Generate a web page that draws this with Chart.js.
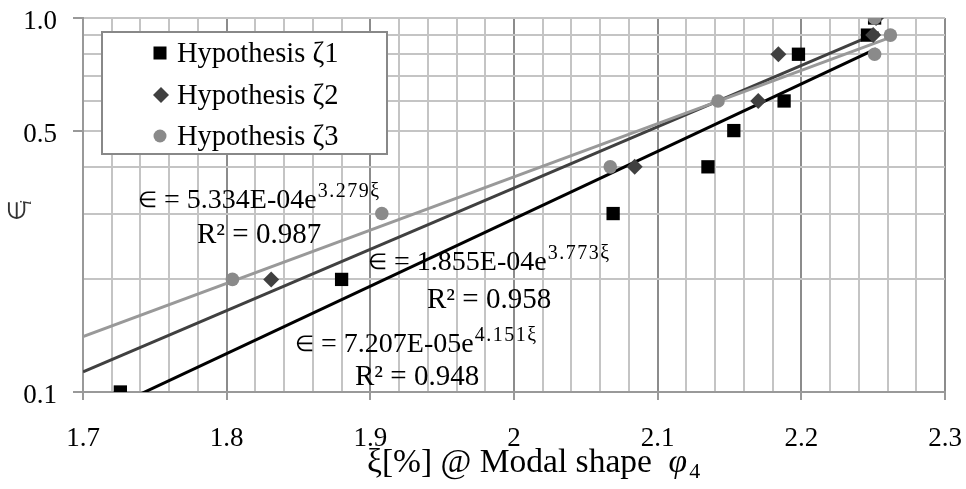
<!DOCTYPE html>
<html>
<head>
<meta charset="utf-8">
<script src="https://cdn.jsdelivr.net/npm/chart.js@4.4.1/dist/chart.umd.min.js"></script>
<style>
  html, body { margin: 0; padding: 0; background: #fff; }
  #wrap { width: 966px; height: 489px; }
</style>
</head>
<body>
<div id="wrap"><canvas id="chart" width="966" height="489"></canvas></div>
<script>
// Dane (xi [%], epsilon)
const seriesNames = ['Hypothesis ζ1', 'Hypothesis ζ2', 'Hypothesis ζ3'];
const xi1 = [1.726, 1.880, 2.069, 2.135, 2.153, 2.188, 2.198, 2.246, 2.251];
const eps1 = [0.10, 0.20, 0.30, 0.40, 0.50, 0.60, 0.80, 0.90, 1.00];
const xi2 = [1.831, 2.084, 2.170, 2.184, 2.250, 2.252];
const eps2 = [0.20, 0.40, 0.60, 0.80, 0.90, 1.00];
const xi3 = [1.804, 1.908, 2.067, 2.142, 2.251, 2.262, 2.251];
const eps3 = [0.20, 0.30, 0.40, 0.60, 0.80, 0.90, 1.00];

// Linie trendu (wykladnicze, z rownan na wykresie)
const trendA = [7.207e-5, 1.855e-4, 5.334e-4];
const trendB = [4.151, 3.773, 3.279];
const trendStart = [1.7, 1.7, 1.7];
const trendEnd = [2.252, 2.254, 2.262];
const eqLabels = ['7.207E-05e', '1.855E-04e', '5.334E-04e'];
const eqPowers = ['4.151ξ', '3.773ξ', '3.279ξ'];
const r2Labels = ['R² = 0.948', 'R² = 0.958', 'R² = 0.987'];

// Osie
const yLabels = ['0.1', '0.5', '1.0'];
const yGrid = [0.1, 0.2, 0.3, 0.4, 0.5, 0.6, 0.7, 0.8, 0.9, 1.0];

const colors = ['#000000', '#404040', '#8a8a8a'];
const lineColors = ['#000000', '#404040', '#999999'];
const SERIF = '"Liberation Serif", "Times New Roman", serif';

function toPoints(xs, ys) {
    return xs.map((x, i) => ({ x: x, y: ys[i] }));
}

function trendPoints(i) {
    return [trendStart[i], trendEnd[i]].map(x => ({ x: x, y: trendA[i] * Math.exp(trendB[i] * x) }));
}

function isMajor(v) {
    return Math.abs(v * 10 - Math.round(v * 10)) < 1e-6;
}

// Zerowanie dodatkowych marginesow osi, zeby obszar wykresu byl staly
function noPad(axis) {
    axis.paddingTop = 0; axis.paddingBottom = 0;
    axis.paddingLeft = 0; axis.paddingRight = 0;
}

const xGrid = [];
for (let k = 0; k <= 30; k++) xGrid.push(Math.round((1.7 + k * 0.02) * 100) / 100);

// Rysowanie legendy, rownan i tytulow osi
const decor = {
    id: 'decor',
    afterDatasetsDraw(chart) {
        const ctx = chart.ctx;
        ctx.save();
        ctx.textAlign = 'left';
        ctx.textBaseline = 'alphabetic';

        // legenda
        ctx.fillStyle = '#fff';
        ctx.fillRect(102, 32, 285, 122);
        ctx.strokeStyle = '#888';
        ctx.lineWidth = 2;
        ctx.strokeRect(102, 32, 285, 122);
        const rows = [53, 95, 136];
        rows.forEach((cy, i) => {
            ctx.fillStyle = colors[i];
            if (i === 0) {
                ctx.fillRect(160 - 6.5, cy - 6.5, 13, 13);
            } else if (i === 1) {
                ctx.beginPath();
                ctx.moveTo(161, cy - 8); ctx.lineTo(169, cy); ctx.lineTo(161, cy + 8); ctx.lineTo(153, cy);
                ctx.closePath(); ctx.fill();
            } else {
                ctx.beginPath(); ctx.arc(160, cy, 6.5, 0, Math.PI * 2); ctx.fill();
            }
            ctx.fillStyle = '#000';
            ctx.font = '28.5px ' + SERIF;
            ctx.fillText(seriesNames[i], 177, cy + 9);
        });

        // rownania trendu
        const eqPos = [[295, 352, 355, 385], [368, 270, 427, 308], [138, 208, 197, 243]];
        eqPos.forEach((p, i) => {
            ctx.fillStyle = '#000';
            ctx.font = '22px ' + SERIF;
            ctx.fillText('∈', p[0], p[1] - 1);
            let x = p[0] + ctx.measureText('∈').width;
            ctx.font = '28px ' + SERIF;
            const main = ' = ' + eqLabels[i];
            ctx.fillText(main, x, p[1]);
            x += ctx.measureText(main).width;
            ctx.font = '20px ' + SERIF;
            ctx.letterSpacing = '1.5px';
            ctx.fillText(eqPowers[i], x + 1, p[1] - 11);
            ctx.letterSpacing = '0px';
            ctx.font = '29px ' + SERIF;
            ctx.fillText(r2Labels[i], p[2], p[3]);
        });

        // tytul osi X
        ctx.font = '33.5px ' + SERIF;
        const t1 = 'ξ[%] @ Modal shape  ';
        ctx.fillText(t1, 367, 472);
        let tx = 367 + ctx.measureText(t1).width;
        ctx.font = 'italic 33.5px ' + SERIF;
        ctx.fillText('φ', tx, 472);
        tx += ctx.measureText('φ').width + 2;
        ctx.font = '22px ' + SERIF;
        ctx.fillText('4', tx, 478);

        // tytul osi Y
        ctx.translate(17, 213);
        ctx.rotate(-Math.PI / 2);
        ctx.font = '24px ' + SERIF;
        ctx.fillStyle = '#333';
        ctx.fillText('∈', -8, 8);
        ctx.font = 'italic 17px ' + SERIF;
        ctx.fillText('i', 8, 14);
        ctx.restore();
    }
};

const datasets = [
    { label: seriesNames[0], data: toPoints(xi1, eps1), pointStyle: 'rect', pointRadius: 9.4, backgroundColor: colors[0], borderWidth: 0, order: 3 },
    { label: seriesNames[1], data: toPoints(xi2, eps2), pointStyle: 'rectRot', pointRadius: 8, backgroundColor: colors[1], borderWidth: 0, order: 2 },
    { label: seriesNames[2], data: toPoints(xi3, eps3), pointStyle: 'circle', pointRadius: 6.8, backgroundColor: colors[2], borderWidth: 0, order: 1 }
];
[0, 1, 2].forEach(i => {
    datasets.push({
        label: 'trend' + (i + 1), data: trendPoints(i), showLine: true, pointRadius: 0,
        borderColor: lineColors[i], borderWidth: 3, order: 6 - i
    });
});

new Chart(document.getElementById('chart'), {
    type: 'scatter',
    data: { datasets: datasets },
    options: {
        responsive: false,
        animation: false,
        devicePixelRatio: 1,
        layout: { padding: { top: 18, right: 21, left: 0, bottom: 0 } },
        plugins: { legend: { display: false }, tooltip: { enabled: false } },
        scales: {
            x: {
                type: 'linear', min: 1.7, max: 2.3,
                afterBuildTicks: axis => { axis.ticks = xGrid.map(v => ({ value: v })); },
                afterFit: axis => { axis.height = 97; noPad(axis); },
                border: { color: '#999', width: 2 },
                grid: {
                    color: c => isMajor(c.tick.value) ? '#8c8c8c' : '#c4c4c4',
                    lineWidth: 2,
                    tickLength: 8,
                    tickColor: c => isMajor(c.tick.value) ? '#999' : 'rgba(0,0,0,0)'
                },
                ticks: {
                    autoSkip: false, maxRotation: 0, padding: 23, color: '#000',
                    font: { family: SERIF, size: 27 },
                    callback: v => isMajor(v) ? String(Math.round(v * 10) / 10) : ''
                }
            },
            y: {
                type: 'logarithmic', min: 0.1, max: 1.0,
                afterBuildTicks: axis => { axis.ticks = yGrid.map(v => ({ value: v })); },
                afterFit: axis => { axis.width = 83; noPad(axis); },
                border: { color: '#999', width: 2 },
                grid: {
                    color: '#c4c4c4',
                    lineWidth: 2,
                    tickLength: 10,
                    tickColor: c => yLabels.indexOf(c.tick.value.toFixed(1)) >= 0 ? '#999' : 'rgba(0,0,0,0)'
                },
                ticks: {
                    autoSkip: false, padding: 16, labelOffset: 4, color: '#000',
                    font: { family: SERIF, size: 27 },
                    callback: v => yLabels.indexOf(Number(v).toFixed(1)) >= 0 ? Number(v).toFixed(1) : ''
                }
            }
        }
    },
    plugins: [decor]
});
</script>
</body>
</html>
